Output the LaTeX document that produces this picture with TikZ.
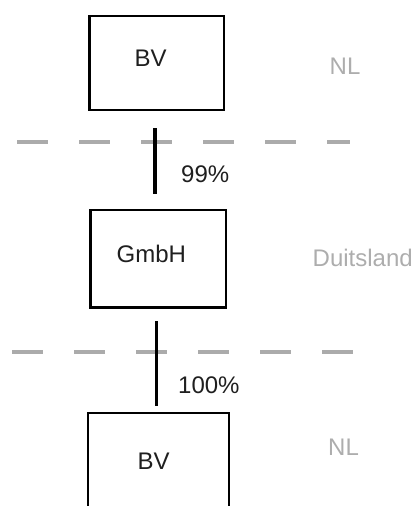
\documentclass[tikz,border=0pt]{standalone}
\usepackage{fontspec}
\setmainfont{Liberation Sans}
\begin{document}
\begin{tikzpicture}[x=1pt,y=-1pt,
  entity/.style={draw=black,line width=2.5pt,inner sep=0pt,anchor=north west},
  txt/.style={inner sep=0pt,anchor=base west,text=black!88,font=\fontsize{24}{29}\selectfont},
  country/.style={txt,text=black!32},
  border/.style={draw=black!33,line width=4.5pt,dash pattern=on 31pt off 31pt},
  share/.style={draw=black,line width=3.5pt}]
\useasboundingbox (0,0) rectangle (418,506);
\clip (0,0) rectangle (418,506);

% country borders
\coordinate (b1w) at (17,142);  \coordinate (b1e) at (350,142);
\coordinate (b2w) at (12,352);  \coordinate (b2e) at (353,352);
\draw[border] (b1w) -- (b1e);
\draw[border] (b2w) -- (b2e);

% entities
\node[entity,minimum width=134.5pt,minimum height=94.2pt] (top) at (88.3,14.5) {};
\node[entity,minimum width=135.4pt,minimum height=97.7pt] (mid) at (89.3,208.5) {};
\node[entity,minimum width=141.1pt,minimum height=110pt] (bot) at (86.7,411.5) {};

\node[txt] (toplbl) at (134.5,66) {BV};
\node[txt] (midlbl) at (116.5,262) {GmbH};
\node[txt] (botlbl) at (137.5,469) {BV};

% countries
\node[country] (nl1) at (329.5,74) {NL};
\node[country] (de) at (312.5,266.5) {Duitsland};
\node[country] (nl2) at (328,455) {NL};

% shareholdings
\coordinate (s1a) at (155.2,128); \coordinate (s1b) at (155.2,193.5);
\coordinate (s2a) at (156.5,321); \coordinate (s2b) at (156.5,405.5);
\draw[share] (s1a) -- (s1b);
\draw[share] (s2a) -- (s2b);
\node[txt] (p1) at (181,182) {99\%};
\node[txt] (p2) at (178,393) {100\%};
\end{tikzpicture}
\end{document}
